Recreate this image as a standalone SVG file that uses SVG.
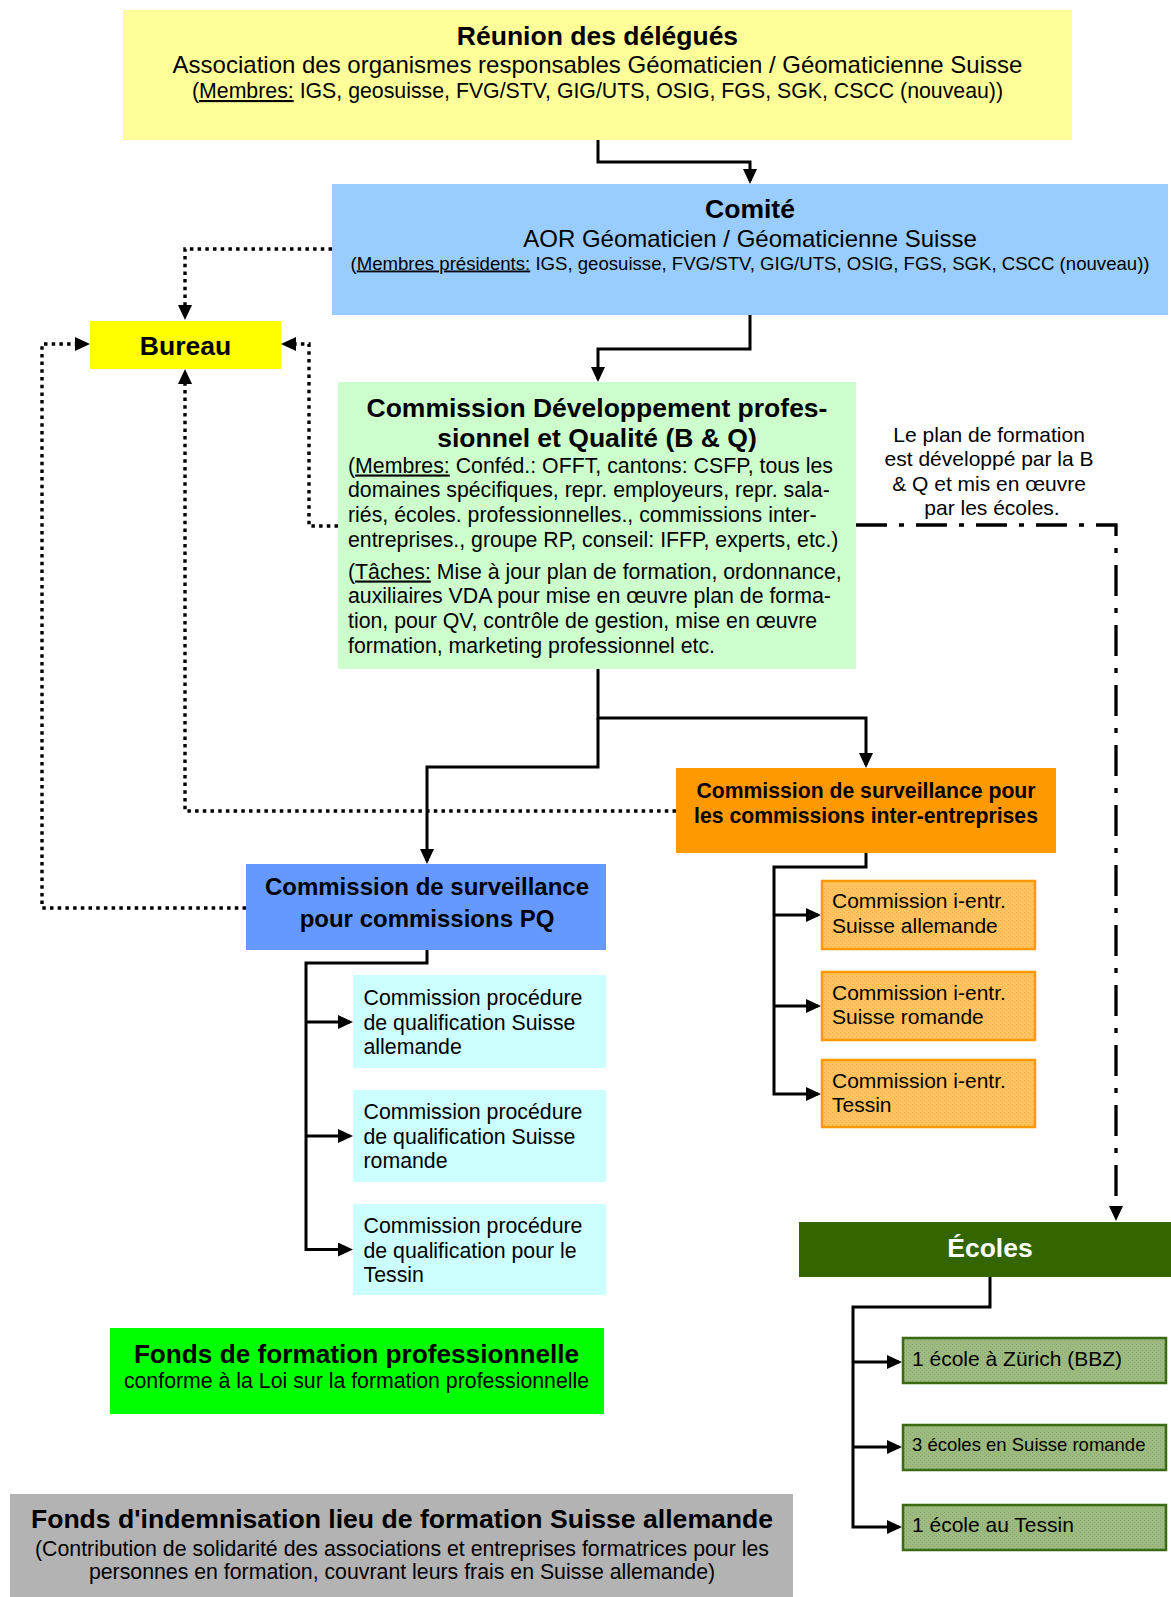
<svg xmlns="http://www.w3.org/2000/svg" width="1171" height="1597" viewBox="0 0 1171 1597">
<style>
text{font-family:"Liberation Sans",Arial,sans-serif;fill:#000}
.b{font-weight:bold}
.m{text-anchor:middle}
.u{text-decoration:underline}
.c{fill:none;stroke:#000;stroke-width:3;marker-end:url(#ah)}
.d{fill:none;stroke:#000;stroke-width:3.4;stroke-dasharray:3.5 4.2;marker-end:url(#ah)}
.dd{fill:none;stroke:#000;stroke-width:3.3;stroke-dasharray:31 12 5 12;marker-end:url(#ah)}
</style>
<defs>
<marker id="ah" markerUnits="userSpaceOnUse" markerWidth="16" markerHeight="15" refX="12" refY="7" orient="auto"><path d="M0,0 L15,7 L0,14 z" fill="#000"/></marker>
<pattern id="po" width="4" height="4" patternUnits="userSpaceOnUse"><rect width="4" height="4" fill="#FFC462"/><rect width="1" height="1" fill="#FFB040"/><rect x="2" y="2" width="1" height="1" fill="#FFB040"/></pattern>
<pattern id="pg" width="4" height="4" patternUnits="userSpaceOnUse"><rect width="4" height="4" fill="#9DBA80"/><rect width="1" height="1" fill="#8AAA6C"/><rect x="2" y="2" width="1" height="1" fill="#8AAA6C"/></pattern>
</defs>

<g id="connectors">
<path class="c" d="M598,140 V162 H750 V181"/>
<path class="c" d="M750,315 V349 H598 V379"/>
<path class="c" d="M598,669 V718 H866 V765"/>
<path class="c" d="M598,718 V767 H427 V861"/>
<path class="c" d="M427,950 V963 H306 V1249.5 H350"/>
<path class="c" d="M306,1022 H350"/>
<path class="c" d="M306,1136 H350"/>
<path class="c" d="M866,853 V867 H774 V1094 H818"/>
<path class="c" d="M774,915 H818"/>
<path class="c" d="M774,1006 H818"/>
<path class="c" d="M990,1277 V1307 H853 V1527 H899"/>
<path class="c" d="M853,1362 H899"/>
<path class="c" d="M853,1447 H899"/>
<path class="d" d="M332,249 H185 V317"/>
<path class="d" d="M338,526 H309 V344 H284"/>
<path class="d" d="M676,811 H185 V372"/>
<path class="d" d="M246,908 H42 V344 H87"/>
<path class="dd" d="M856,525 H1116 V1218"/>
</g>

<g id="reunion">
<rect x="123" y="10" width="949" height="130" fill="#FFFF99"/>
<text x="597.5" y="45" class="b m" font-size="26.5">Réunion des délégués</text>
<text x="597.5" y="73" class="m" font-size="24">Association des organismes responsables Géomaticien / Géomaticienne Suisse</text>
<text x="597.5" y="98" class="m" font-size="21.3">(<tspan class="u">Membres:</tspan> IGS, geosuisse, FVG/STV, GIG/UTS, OSIG, FGS, SGK, CSCC (nouveau))</text>
</g>

<g id="comite">
<rect x="332" y="184" width="836" height="131" fill="#99CCFF"/>
<text x="750" y="218" class="b m" font-size="26.5">Comité</text>
<text x="750" y="247" class="m" font-size="24">AOR Géomaticien / Géomaticienne Suisse</text>
<text x="750" y="269.5" class="m" font-size="18.6">(<tspan class="u">Membres présidents:</tspan> IGS, geosuisse, FVG/STV, GIG/UTS, OSIG, FGS, SGK, CSCC (nouveau))</text>
</g>

<g id="bureau">
<rect x="90" y="321" width="191" height="48" fill="#FFFF00"/>
<text x="185.5" y="355" class="b m" font-size="26.5">Bureau</text>
</g>

<g id="bq">
<rect x="338" y="382" width="518" height="287" fill="#CCFFCC"/>
<text x="597" y="416.5" class="b m" font-size="26.5">Commission Développement profes-</text>
<text x="597" y="447" class="b m" font-size="26.5">sionnel et Qualité (B &amp; Q)</text>
<text font-size="21.3">
<tspan x="348" y="472.5">(<tspan class="u">Membres:</tspan> Conféd.: OFFT, cantons: CSFP, tous les</tspan>
<tspan x="348" y="497.3">domaines spécifiques, repr. employeurs, repr. sala-</tspan>
<tspan x="348" y="521.8">riés, écoles. professionnelles., commissions inter-</tspan>
<tspan x="348" y="546.5">entreprises., groupe RP, conseil: IFFP, experts, etc.)</tspan>
<tspan x="348" y="578.5">(<tspan class="u">Tâches:</tspan> Mise à jour plan de formation, ordonnance,</tspan>
<tspan x="348" y="603.3">auxiliaires VDA pour mise en œuvre plan de forma-</tspan>
<tspan x="348" y="628">tion, pour QV, contrôle de gestion, mise en œuvre</tspan>
<tspan x="348" y="652.7">formation, marketing professionnel etc.</tspan>
</text>
</g>

<g id="note">
<text class="m" font-size="21">
<tspan x="992" y="441.7">Le plan de formation</tspan>
<tspan x="992" y="466">est développé par la B</tspan>
<tspan x="992" y="490.7">&amp; Q et mis en œuvre</tspan>
<tspan x="992" y="515">par les écoles.</tspan>
</text>
</g>

<g id="surv-ie">
<rect x="676" y="768" width="380" height="85" fill="#FF9900"/>
<text x="866" y="797.5" class="b m" font-size="21.2">Commission de surveillance pour</text>
<text x="866" y="822.5" class="b m" font-size="21.2">les commissions inter-entreprises</text>
</g>

<g id="surv-pq">
<rect x="246" y="864" width="360" height="86" fill="#6699FF"/>
<text x="427" y="895" class="b m" font-size="24">Commission de surveillance</text>
<text x="427" y="926.5" class="b m" font-size="24">pour commissions PQ</text>
</g>

<g id="pq1">
<rect x="353" y="975" width="253" height="93" fill="#CCFFFF"/>
<text font-size="21.3"><tspan x="363.5" y="1005">Commission procédure</tspan><tspan x="363.5" y="1029.5">de qualification Suisse</tspan><tspan x="363.5" y="1054">allemande</tspan></text>
</g>
<g id="pq2">
<rect x="353" y="1090" width="253" height="92" fill="#CCFFFF"/>
<text font-size="21.3"><tspan x="363.5" y="1119">Commission procédure</tspan><tspan x="363.5" y="1143.6">de qualification Suisse</tspan><tspan x="363.5" y="1168">romande</tspan></text>
</g>
<g id="pq3">
<rect x="353" y="1204" width="253" height="91" fill="#CCFFFF"/>
<text font-size="21.3"><tspan x="363.5" y="1233">Commission procédure</tspan><tspan x="363.5" y="1257.6">de qualification pour le</tspan><tspan x="363.5" y="1282">Tessin</tspan></text>
</g>

<g id="ie1">
<rect x="822" y="881" width="213" height="68" fill="url(#po)" stroke="#FF9900" stroke-width="2.5"/>
<text font-size="21"><tspan x="832" y="908.3">Commission i-entr.</tspan><tspan x="832" y="932.7">Suisse allemande</tspan></text>
</g>
<g id="ie2">
<rect x="822" y="972" width="213" height="68" fill="url(#po)" stroke="#FF9900" stroke-width="2.5"/>
<text font-size="21"><tspan x="832" y="1000">Commission i-entr.</tspan><tspan x="832" y="1024.3">Suisse romande</tspan></text>
</g>
<g id="ie3">
<rect x="822" y="1060" width="213" height="67" fill="url(#po)" stroke="#FF9900" stroke-width="2.5"/>
<text font-size="21"><tspan x="832" y="1087.7">Commission i-entr.</tspan><tspan x="832" y="1112.3">Tessin</tspan></text>
</g>

<g id="ecoles">
<rect x="799" y="1222" width="372" height="55" fill="#336600"/>
<text x="990" y="1257" class="b m" font-size="26.5" style="fill:#fff">Écoles</text>
</g>

<g id="ec1">
<rect x="903" y="1338" width="263" height="45" fill="url(#pg)" stroke="#3A6A12" stroke-width="2.5"/>
<text x="912" y="1366" font-size="21">1 école à Zürich (BBZ)</text>
</g>
<g id="ec2">
<rect x="903" y="1425" width="263" height="45" fill="url(#pg)" stroke="#3A6A12" stroke-width="2.5"/>
<text x="912" y="1451" font-size="18.5">3 écoles en Suisse romande</text>
</g>
<g id="ec3">
<rect x="903" y="1505" width="263" height="45" fill="url(#pg)" stroke="#3A6A12" stroke-width="2.5"/>
<text x="912" y="1532" font-size="21">1 école au Tessin</text>
</g>

<g id="fonds-fp">
<rect x="110" y="1328" width="494" height="86" fill="#00FF00"/>
<text x="356.5" y="1363" class="b m" font-size="26.2">Fonds de formation professionnelle</text>
<text x="356.5" y="1388" class="m" font-size="21.3">conforme à la Loi sur la formation professionnelle</text>
</g>

<g id="fonds-ind">
<rect x="10" y="1494" width="783" height="103" fill="#B3B3B3"/>
<text x="402" y="1528" class="b m" font-size="26.6">Fonds d'indemnisation lieu de formation Suisse allemande</text>
<text x="402" y="1555.5" class="m" font-size="21.3">(Contribution de solidarité des associations et entreprises formatrices pour les</text>
<text x="402" y="1579" class="m" font-size="21.3">personnes en formation, couvrant leurs frais en Suisse allemande)</text>
</g>
</svg>
